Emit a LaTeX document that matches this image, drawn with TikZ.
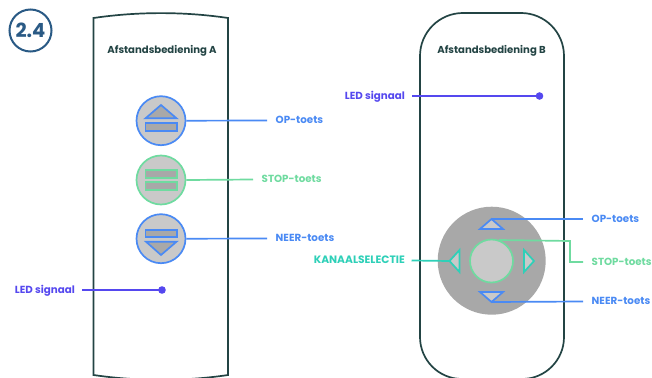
\documentclass[tikz,border=0pt]{standalone}
\usepackage{fontspec}
\setmainfont{Poppins}
\definecolor{bluec}{HTML}{4A8AF4}
\definecolor{greenc}{HTML}{6FDBA0}
\definecolor{tealc}{HTML}{2ED0B8}
\definecolor{purplec}{HTML}{5548EF}
\definecolor{darkc}{HTML}{234444}
\definecolor{badgec}{HTML}{2A5A85}
\definecolor{lightg}{HTML}{C9C9C9}
\definecolor{midg}{HTML}{A8A8A8}
\tikzset{
  body/.style={draw=darkc,line width=1.7pt,fill=white},
  title/.style={font=\bfseries\fontsize{10.1}{12}\selectfont,text=darkc,inner sep=0pt},
  tag/.style={font=\bfseries\fontsize{10.3}{12}\selectfont,anchor=west,inner ysep=0pt,inner xsep=8.5pt,text height=7pt,text depth=0.2pt},
  knob/.style={circle,inner sep=0pt,minimum size=49pt,fill=lightg,draw=#1,line width=1.7pt},
  shp/.style={fill=midg,draw=#1,line width=1.7pt,line join=miter},
  padshp/.style={fill=lightg,draw=#1,line width=1.7pt,line join=miter},
  wire/.style={draw=#1,line width=1.7pt},
}
\begin{document}
\begin{tikzpicture}[x=1pt,y=-1pt]
\clip (0,0) rectangle (652,377);
\fill[white] (0,0) rectangle (652,377);
% badge
\node[circle,draw=badgec,line width=2pt,minimum size=42pt,inner sep=0pt,text=badgec,font=\bfseries\fontsize{19.5}{20}\selectfont] (badge) at (30.5,30.5) {2.4};
% remote A
\path[body] (93.5,18) .. controls (138,11.5) and (184,11.5) .. (228,18) -- (228,375) .. controls (184,381.5) and (138,381.5) .. (93.5,375) -- cycle;
\node[title] (ta) at (162,51) {Afstandsbediening A};
% remote B
\path[body] (420,56) arc[start angle=180,end angle=270,radius=43] -- (521,13) arc[start angle=270,end angle=360,radius=43] -- (564,337) arc[start angle=0,end angle=90,radius=42] -- (462,379) arc[start angle=90,end angle=180,radius=42] -- cycle;
\node[title] (tb) at (491.5,51) {Afstandsbediening B};
% buttons A
\node[knob=bluec] (opa) at (161,120.7) {};
\node[knob=greenc] (stopa) at (161,180) {};
\node[knob=bluec] (neera) at (161,238.7) {};
\path[shp=bluec] (161,105) -- (176.5,118.3) -- (145.5,118.3) -- cycle;
\path[shp=bluec] (145.5,123) rectangle (177,131);
\path[shp=greenc] (145.5,169.7) rectangle (177,177.7);
\path[shp=greenc] (145.5,182) rectangle (177,190);
\path[shp=bluec] (145.5,229.7) rectangle (177,237.3);
\path[shp=bluec] (146,241.7) -- (176.5,241.7) -- (161,255) -- cycle;
% labels A
\node[tag,text=bluec] (opla) at (267,120.5) {OP-toets};
\node[tag,text=greenc] (stopla) at (253,179.5) {STOP-toets};
\node[tag,text=bluec] (neerla) at (267,238.5) {NEER-toets};
\node[tag,text=purplec,anchor=east,inner xsep=7pt] (leda) at (82,290) {LED signaal};
\node[circle,fill=purplec,inner sep=0pt,minimum size=7.6pt] (dota) at (162,290) {};
\draw[wire=bluec] (opa.east) -- (opla.west);
\draw[wire=greenc] (stopa.east) -- (stopla.west);
\draw[wire=bluec] (neera.east) -- (neerla.west);
\draw[wire=purplec] (leda.east) -- (dota.center);
% remote B controls
\node[circle,fill=midg,inner sep=0pt,minimum size=108pt] (pad) at (491.7,260.7) {};
\path[padshp=bluec] (491.5,219) coordinate (tu) -- (503,229) -- (480,229) -- cycle;
\path[padshp=bluec] (480,292) -- (503,292) -- (491.5,302) coordinate (td) -- cycle;
\path[padshp=tealc] (449.5,261) coordinate (tl) -- (459.5,250) -- (459.5,272) -- cycle;
\path[padshp=tealc] (534,261) -- (524,250) -- (524,272) -- cycle;
\node[circle,fill=lightg,draw=greenc,line width=1.7pt,inner sep=0pt,minimum size=43pt] (ctr) at (491.5,261) {};
\node[tag,text=bluec] (oplb) at (583,219) {OP-toets};
\node[tag,text=greenc] (stoplb) at (583,262) {STOP-toets};
\node[tag,text=bluec] (neerlb) at (583,301.5) {NEER-toets};
\node[tag,text=tealc,anchor=east,inner xsep=6.5pt,font=\bfseries\fontsize{10.7}{12}\selectfont] (kan) at (411.5,260.5) {KANAALSELECTIE};
\node[tag,text=purplec,anchor=east,inner xsep=7pt] (ledb) at (412,96) {LED signaal};
\node[circle,fill=purplec,inner sep=0pt,minimum size=7.6pt] (dotb) at (539.5,96) {};
\draw[wire=bluec] (tu) -- (oplb.west);
\draw[wire=bluec] (td) -- (neerlb.west);
\draw[wire=greenc] (ctr.70) -- (570,241) -- (570,262) -- (stoplb.west);
\draw[wire=tealc] (kan.east) -- (tl);
\draw[wire=purplec] (ledb.east) -- (dotb.center);
\end{tikzpicture}
\end{document}
